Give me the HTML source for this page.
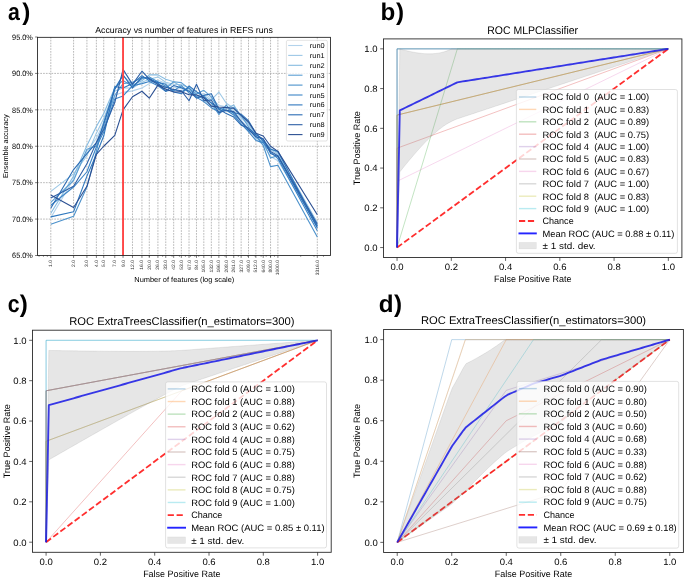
<!DOCTYPE html>
<html><head><meta charset="utf-8"><title>figure</title><style>
html,body{margin:0;padding:0;background:#fff;}
svg{display:block;will-change:transform;}
text{font-family:"Liberation Sans", sans-serif;text-rendering:geometricPrecision;}
</style></head><body>
<svg width="685" height="579" viewBox="0 0 685 579">
<rect width="685" height="579" fill="#fff"/>
<line x1="37.50" y1="73.42" x2="330.50" y2="73.42" stroke="#a8a8a8" stroke-width="0.8" stroke-dasharray="1.7,1.1"/>
<line x1="37.50" y1="109.83" x2="330.50" y2="109.83" stroke="#a8a8a8" stroke-width="0.8" stroke-dasharray="1.7,1.1"/>
<line x1="37.50" y1="146.25" x2="330.50" y2="146.25" stroke="#a8a8a8" stroke-width="0.8" stroke-dasharray="1.7,1.1"/>
<line x1="37.50" y1="182.67" x2="330.50" y2="182.67" stroke="#a8a8a8" stroke-width="0.8" stroke-dasharray="1.7,1.1"/>
<line x1="37.50" y1="219.08" x2="330.50" y2="219.08" stroke="#a8a8a8" stroke-width="0.8" stroke-dasharray="1.7,1.1"/>
<line x1="50.80" y1="37.00" x2="50.80" y2="255.50" stroke="#a8a8a8" stroke-width="0.8" stroke-dasharray="1.7,1.1"/>
<line x1="73.59" y1="37.00" x2="73.59" y2="255.50" stroke="#a8a8a8" stroke-width="0.8" stroke-dasharray="1.7,1.1"/>
<line x1="86.92" y1="37.00" x2="86.92" y2="255.50" stroke="#a8a8a8" stroke-width="0.8" stroke-dasharray="1.7,1.1"/>
<line x1="96.38" y1="37.00" x2="96.38" y2="255.50" stroke="#a8a8a8" stroke-width="0.8" stroke-dasharray="1.7,1.1"/>
<line x1="103.71" y1="37.00" x2="103.71" y2="255.50" stroke="#a8a8a8" stroke-width="0.8" stroke-dasharray="1.7,1.1"/>
<line x1="114.77" y1="37.00" x2="114.77" y2="255.50" stroke="#a8a8a8" stroke-width="0.8" stroke-dasharray="1.7,1.1"/>
<line x1="123.04" y1="37.00" x2="123.04" y2="255.50" stroke="#a8a8a8" stroke-width="0.8" stroke-dasharray="1.7,1.1"/>
<line x1="132.49" y1="37.00" x2="132.49" y2="255.50" stroke="#a8a8a8" stroke-width="0.8" stroke-dasharray="1.7,1.1"/>
<line x1="141.95" y1="37.00" x2="141.95" y2="255.50" stroke="#a8a8a8" stroke-width="0.8" stroke-dasharray="1.7,1.1"/>
<line x1="149.29" y1="37.00" x2="149.29" y2="255.50" stroke="#a8a8a8" stroke-width="0.8" stroke-dasharray="1.7,1.1"/>
<line x1="157.91" y1="37.00" x2="157.91" y2="255.50" stroke="#a8a8a8" stroke-width="0.8" stroke-dasharray="1.7,1.1"/>
<line x1="165.75" y1="37.00" x2="165.75" y2="255.50" stroke="#a8a8a8" stroke-width="0.8" stroke-dasharray="1.7,1.1"/>
<line x1="173.68" y1="37.00" x2="173.68" y2="255.50" stroke="#a8a8a8" stroke-width="0.8" stroke-dasharray="1.7,1.1"/>
<line x1="181.33" y1="37.00" x2="181.33" y2="255.50" stroke="#a8a8a8" stroke-width="0.8" stroke-dasharray="1.7,1.1"/>
<line x1="189.03" y1="37.00" x2="189.03" y2="255.50" stroke="#a8a8a8" stroke-width="0.8" stroke-dasharray="1.7,1.1"/>
<line x1="196.47" y1="37.00" x2="196.47" y2="255.50" stroke="#a8a8a8" stroke-width="0.8" stroke-dasharray="1.7,1.1"/>
<line x1="203.80" y1="37.00" x2="203.80" y2="255.50" stroke="#a8a8a8" stroke-width="0.8" stroke-dasharray="1.7,1.1"/>
<line x1="211.33" y1="37.00" x2="211.33" y2="255.50" stroke="#a8a8a8" stroke-width="0.8" stroke-dasharray="1.7,1.1"/>
<line x1="218.86" y1="37.00" x2="218.86" y2="255.50" stroke="#a8a8a8" stroke-width="0.8" stroke-dasharray="1.7,1.1"/>
<line x1="226.28" y1="37.00" x2="226.28" y2="255.50" stroke="#a8a8a8" stroke-width="0.8" stroke-dasharray="1.7,1.1"/>
<line x1="233.74" y1="37.00" x2="233.74" y2="255.50" stroke="#a8a8a8" stroke-width="0.8" stroke-dasharray="1.7,1.1"/>
<line x1="241.15" y1="37.00" x2="241.15" y2="255.50" stroke="#a8a8a8" stroke-width="0.8" stroke-dasharray="1.7,1.1"/>
<line x1="248.51" y1="37.00" x2="248.51" y2="255.50" stroke="#a8a8a8" stroke-width="0.8" stroke-dasharray="1.7,1.1"/>
<line x1="255.89" y1="37.00" x2="255.89" y2="255.50" stroke="#a8a8a8" stroke-width="0.8" stroke-dasharray="1.7,1.1"/>
<line x1="263.23" y1="37.00" x2="263.23" y2="255.50" stroke="#a8a8a8" stroke-width="0.8" stroke-dasharray="1.7,1.1"/>
<line x1="270.56" y1="37.00" x2="270.56" y2="255.50" stroke="#a8a8a8" stroke-width="0.8" stroke-dasharray="1.7,1.1"/>
<line x1="277.90" y1="37.00" x2="277.90" y2="255.50" stroke="#a8a8a8" stroke-width="0.8" stroke-dasharray="1.7,1.1"/>
<line x1="317.31" y1="37.00" x2="317.31" y2="255.50" stroke="#a8a8a8" stroke-width="0.8" stroke-dasharray="1.7,1.1"/>
<polyline points="50.80,217.63 73.59,179.03 86.92,151.35 96.38,138.24 103.71,122.22 114.77,95.27 123.04,92.35 132.49,90.90 141.95,87.98 149.29,83.61 157.91,80.34 165.75,83.25 173.68,86.89 181.33,88.71 189.03,91.19 196.47,96.58 203.80,93.37 211.33,98.40 218.86,105.17 226.28,106.70 233.74,110.49 241.15,120.25 248.51,128.04 255.89,138.97 263.23,144.79 270.56,156.45 277.90,160.82 317.31,225.64" fill="none" stroke="#b3d3ec" stroke-width="1.1" stroke-linejoin="round"/>
<polyline points="50.80,191.41 73.59,173.93 86.92,155.72 96.38,133.14 103.71,118.57 114.77,90.90 123.04,87.98 132.49,87.98 141.95,82.16 149.29,79.24 157.91,76.91 165.75,82.23 173.68,84.27 181.33,84.63 189.03,87.76 196.47,93.30 203.80,95.41 211.33,99.93 218.86,92.06 226.28,103.28 233.74,108.30 241.15,117.84 248.51,124.40 255.89,136.05 263.23,143.34 270.56,149.89 277.90,154.26 317.31,227.82" fill="none" stroke="#9dc8e6" stroke-width="1.1" stroke-linejoin="round"/>
<polyline points="50.80,213.26 73.59,176.11 86.92,145.52 96.38,126.58 103.71,113.47 114.77,87.98 123.04,75.60 132.49,85.07 141.95,80.70 149.29,74.87 157.91,74.87 165.75,79.24 173.68,81.72 181.33,86.67 189.03,90.31 196.47,94.90 203.80,99.56 211.33,106.12 218.86,108.96 226.28,108.45 233.74,105.03 241.15,116.61 248.51,123.16 255.89,134.60 263.23,139.69 270.56,148.43 277.90,152.81 317.31,222.72" fill="none" stroke="#86bbe0" stroke-width="1.1" stroke-linejoin="round"/>
<polyline points="50.80,202.33 73.59,180.48 86.92,149.16 96.38,146.25 103.71,127.31 114.77,95.27 123.04,83.61 132.49,82.16 141.95,77.79 149.29,78.52 157.91,83.76 165.75,88.27 173.68,81.72 181.33,82.59 189.03,88.64 196.47,94.10 203.80,90.31 211.33,96.87 218.86,109.91 226.28,111.00 233.74,107.21 241.15,115.44 248.51,126.80 255.89,137.51 263.23,141.88 270.56,157.90 277.90,155.72 317.31,225.64" fill="none" stroke="#5d9fd3" stroke-width="1.1" stroke-linejoin="round"/>
<polyline points="50.80,224.18 73.59,216.17 86.92,187.04 96.38,151.35 103.71,122.22 114.77,87.98 123.04,80.34 132.49,86.53 141.95,78.52 149.29,77.06 157.91,81.72 165.75,86.24 173.68,90.75 181.33,85.65 189.03,92.94 196.47,96.58 203.80,97.52 211.33,103.06 218.86,114.57 226.28,105.03 233.74,113.84 241.15,121.49 248.51,130.45 255.89,135.32 263.23,145.52 270.56,166.64 277.90,165.19 317.31,236.93" fill="none" stroke="#4b91cb" stroke-width="1.1" stroke-linejoin="round"/>
<polyline points="50.80,205.24 73.59,187.04 86.92,171.74 96.38,146.98 103.71,131.68 114.77,98.91 123.04,95.99 132.49,85.80 141.95,83.61 149.29,81.43 157.91,85.80 165.75,91.26 173.68,89.44 181.33,91.77 189.03,87.76 196.47,97.38 203.80,101.60 211.33,107.65 218.86,111.73 226.28,110.20 233.74,114.93 241.15,123.89 248.51,131.68 255.89,140.42 263.23,142.61 270.56,152.08 277.90,158.63 317.31,230.74" fill="none" stroke="#3d85c6" stroke-width="1.1" stroke-linejoin="round"/>
<polyline points="50.80,216.90 73.59,211.80 86.92,176.11 96.38,154.26 103.71,136.05 114.77,86.53 123.04,87.98 132.49,83.61 141.95,75.60 149.29,80.70 157.91,82.38 165.75,84.27 173.68,92.06 181.33,93.81 189.03,86.02 196.47,91.70 203.80,96.50 211.33,103.06 218.86,108.01 226.28,110.20 233.74,112.75 241.15,114.20 248.51,120.76 255.89,133.14 263.23,141.15 270.56,149.16 277.90,151.35 317.31,226.37" fill="none" stroke="#2f78be" stroke-width="1.1" stroke-linejoin="round"/>
<polyline points="50.80,208.16 73.59,169.56 86.92,153.53 96.38,142.61 103.71,124.40 114.77,89.44 123.04,74.87 132.49,87.98 141.95,77.06 149.29,78.52 157.91,83.03 165.75,91.26 173.68,85.58 181.33,87.69 189.03,91.19 196.47,98.18 203.80,95.41 211.33,93.81 218.86,108.96 226.28,113.62 233.74,117.12 241.15,125.13 248.51,128.04 255.89,134.60 263.23,138.97 270.56,153.53 277.90,156.45 317.31,227.82" fill="none" stroke="#2b6cb4" stroke-width="1.1" stroke-linejoin="round"/>
<polyline points="50.80,197.96 73.59,186.31 86.92,163.73 96.38,142.61 103.71,129.50 114.77,102.55 123.04,69.41 132.49,84.34 141.95,71.23 149.29,79.24 157.91,84.41 165.75,87.26 173.68,89.44 181.33,90.75 189.03,100.73 196.47,84.34 203.80,100.58 211.33,99.93 218.86,112.67 226.28,110.20 233.74,111.65 241.15,121.49 248.51,129.28 255.89,136.78 263.23,138.97 270.56,151.35 277.90,155.72 317.31,224.18" fill="none" stroke="#2c5fa6" stroke-width="1.1" stroke-linejoin="round"/>
<polyline points="50.80,195.05 73.59,207.43 86.92,186.31 96.38,154.26 103.71,146.25 114.77,135.32 123.04,109.83 132.49,96.72 141.95,91.26 149.29,98.18 157.91,85.14 165.75,89.29 173.68,92.06 181.33,91.77 189.03,94.68 196.47,94.90 203.80,97.52 211.33,106.12 218.86,107.07 226.28,107.58 233.74,108.30 241.15,115.44 248.51,122.00 255.89,133.14 263.23,136.05 270.56,146.25 277.90,151.35 317.31,214.71" fill="none" stroke="#2b4f92" stroke-width="1.1" stroke-linejoin="round"/>
<line x1="123.04" y1="37.00" x2="123.04" y2="255.50" stroke="#ff4545" stroke-width="1.9"/>
<rect x="37.5" y="37.35" width="293.00" height="218.15" fill="none" stroke="#2a2a2a" stroke-width="0.9"/>
<line x1="35.10" y1="37.00" x2="37.50" y2="37.00" stroke="#222" stroke-width="0.6"/>
<text x="32.90" y="39.77" font-size="7.74" text-anchor="end" textLength="20.81" lengthAdjust="spacingAndGlyphs" xml:space="preserve">95.0%</text>
<line x1="35.10" y1="73.42" x2="37.50" y2="73.42" stroke="#222" stroke-width="0.6"/>
<text x="32.90" y="76.19" font-size="7.74" text-anchor="end" textLength="20.81" lengthAdjust="spacingAndGlyphs" xml:space="preserve">90.0%</text>
<line x1="35.10" y1="109.83" x2="37.50" y2="109.83" stroke="#222" stroke-width="0.6"/>
<text x="32.90" y="112.60" font-size="7.74" text-anchor="end" textLength="20.81" lengthAdjust="spacingAndGlyphs" xml:space="preserve">85.0%</text>
<line x1="35.10" y1="146.25" x2="37.50" y2="146.25" stroke="#222" stroke-width="0.6"/>
<text x="32.90" y="149.02" font-size="7.74" text-anchor="end" textLength="20.81" lengthAdjust="spacingAndGlyphs" xml:space="preserve">80.0%</text>
<line x1="35.10" y1="182.67" x2="37.50" y2="182.67" stroke="#222" stroke-width="0.6"/>
<text x="32.90" y="185.44" font-size="7.74" text-anchor="end" textLength="20.81" lengthAdjust="spacingAndGlyphs" xml:space="preserve">75.0%</text>
<line x1="35.10" y1="219.08" x2="37.50" y2="219.08" stroke="#222" stroke-width="0.6"/>
<text x="32.90" y="221.85" font-size="7.74" text-anchor="end" textLength="20.81" lengthAdjust="spacingAndGlyphs" xml:space="preserve">70.0%</text>
<line x1="35.10" y1="255.50" x2="37.50" y2="255.50" stroke="#222" stroke-width="0.6"/>
<text x="32.90" y="258.27" font-size="7.74" text-anchor="end" textLength="20.81" lengthAdjust="spacingAndGlyphs" xml:space="preserve">65.0%</text>
<line x1="50.80" y1="255.50" x2="50.80" y2="257.90" stroke="#222" stroke-width="0.6"/>
<line x1="73.59" y1="255.50" x2="73.59" y2="257.90" stroke="#222" stroke-width="0.6"/>
<line x1="86.92" y1="255.50" x2="86.92" y2="257.90" stroke="#222" stroke-width="0.6"/>
<line x1="96.38" y1="255.50" x2="96.38" y2="257.90" stroke="#222" stroke-width="0.6"/>
<line x1="103.71" y1="255.50" x2="103.71" y2="257.90" stroke="#222" stroke-width="0.6"/>
<line x1="114.77" y1="255.50" x2="114.77" y2="257.90" stroke="#222" stroke-width="0.6"/>
<line x1="123.04" y1="255.50" x2="123.04" y2="257.90" stroke="#222" stroke-width="0.6"/>
<line x1="132.49" y1="255.50" x2="132.49" y2="257.90" stroke="#222" stroke-width="0.6"/>
<line x1="141.95" y1="255.50" x2="141.95" y2="257.90" stroke="#222" stroke-width="0.6"/>
<line x1="149.29" y1="255.50" x2="149.29" y2="257.90" stroke="#222" stroke-width="0.6"/>
<line x1="157.91" y1="255.50" x2="157.91" y2="257.90" stroke="#222" stroke-width="0.6"/>
<line x1="165.75" y1="255.50" x2="165.75" y2="257.90" stroke="#222" stroke-width="0.6"/>
<line x1="173.68" y1="255.50" x2="173.68" y2="257.90" stroke="#222" stroke-width="0.6"/>
<line x1="181.33" y1="255.50" x2="181.33" y2="257.90" stroke="#222" stroke-width="0.6"/>
<line x1="189.03" y1="255.50" x2="189.03" y2="257.90" stroke="#222" stroke-width="0.6"/>
<line x1="196.47" y1="255.50" x2="196.47" y2="257.90" stroke="#222" stroke-width="0.6"/>
<line x1="203.80" y1="255.50" x2="203.80" y2="257.90" stroke="#222" stroke-width="0.6"/>
<line x1="211.33" y1="255.50" x2="211.33" y2="257.90" stroke="#222" stroke-width="0.6"/>
<line x1="218.86" y1="255.50" x2="218.86" y2="257.90" stroke="#222" stroke-width="0.6"/>
<line x1="226.28" y1="255.50" x2="226.28" y2="257.90" stroke="#222" stroke-width="0.6"/>
<line x1="233.74" y1="255.50" x2="233.74" y2="257.90" stroke="#222" stroke-width="0.6"/>
<line x1="241.15" y1="255.50" x2="241.15" y2="257.90" stroke="#222" stroke-width="0.6"/>
<line x1="248.51" y1="255.50" x2="248.51" y2="257.90" stroke="#222" stroke-width="0.6"/>
<line x1="255.89" y1="255.50" x2="255.89" y2="257.90" stroke="#222" stroke-width="0.6"/>
<line x1="263.23" y1="255.50" x2="263.23" y2="257.90" stroke="#222" stroke-width="0.6"/>
<line x1="270.56" y1="255.50" x2="270.56" y2="257.90" stroke="#222" stroke-width="0.6"/>
<line x1="277.90" y1="255.50" x2="277.90" y2="257.90" stroke="#222" stroke-width="0.6"/>
<line x1="317.31" y1="255.50" x2="317.31" y2="257.90" stroke="#222" stroke-width="0.6"/>
<line x1="39.07" y1="255.50" x2="39.07" y2="256.80" stroke="#222" stroke-width="0.5"/>
<line x1="43.46" y1="255.50" x2="43.46" y2="256.80" stroke="#222" stroke-width="0.5"/>
<line x1="47.34" y1="255.50" x2="47.34" y2="256.80" stroke="#222" stroke-width="0.5"/>
<line x1="149.29" y1="255.50" x2="149.29" y2="256.80" stroke="#222" stroke-width="0.5"/>
<line x1="162.62" y1="255.50" x2="162.62" y2="256.80" stroke="#222" stroke-width="0.5"/>
<line x1="172.08" y1="255.50" x2="172.08" y2="256.80" stroke="#222" stroke-width="0.5"/>
<line x1="179.41" y1="255.50" x2="179.41" y2="256.80" stroke="#222" stroke-width="0.5"/>
<line x1="185.41" y1="255.50" x2="185.41" y2="256.80" stroke="#222" stroke-width="0.5"/>
<line x1="190.47" y1="255.50" x2="190.47" y2="256.80" stroke="#222" stroke-width="0.5"/>
<line x1="194.86" y1="255.50" x2="194.86" y2="256.80" stroke="#222" stroke-width="0.5"/>
<line x1="198.74" y1="255.50" x2="198.74" y2="256.80" stroke="#222" stroke-width="0.5"/>
<line x1="224.99" y1="255.50" x2="224.99" y2="256.80" stroke="#222" stroke-width="0.5"/>
<line x1="238.32" y1="255.50" x2="238.32" y2="256.80" stroke="#222" stroke-width="0.5"/>
<line x1="247.78" y1="255.50" x2="247.78" y2="256.80" stroke="#222" stroke-width="0.5"/>
<line x1="255.11" y1="255.50" x2="255.11" y2="256.80" stroke="#222" stroke-width="0.5"/>
<line x1="261.11" y1="255.50" x2="261.11" y2="256.80" stroke="#222" stroke-width="0.5"/>
<line x1="266.17" y1="255.50" x2="266.17" y2="256.80" stroke="#222" stroke-width="0.5"/>
<line x1="270.56" y1="255.50" x2="270.56" y2="256.80" stroke="#222" stroke-width="0.5"/>
<line x1="274.44" y1="255.50" x2="274.44" y2="256.80" stroke="#222" stroke-width="0.5"/>
<line x1="300.69" y1="255.50" x2="300.69" y2="256.80" stroke="#222" stroke-width="0.5"/>
<line x1="314.02" y1="255.50" x2="314.02" y2="256.80" stroke="#222" stroke-width="0.5"/>
<line x1="323.48" y1="255.50" x2="323.48" y2="256.80" stroke="#222" stroke-width="0.5"/>
<text x="52.35" y="260.10" font-size="4.77" text-anchor="end" textLength="6.84" lengthAdjust="spacingAndGlyphs" fill="#333" transform="rotate(-90 52.35 260.10)" xml:space="preserve">1.0</text>
<text x="75.14" y="260.10" font-size="4.77" text-anchor="end" textLength="6.84" lengthAdjust="spacingAndGlyphs" fill="#333" transform="rotate(-90 75.14 260.10)" xml:space="preserve">2.0</text>
<text x="88.47" y="260.10" font-size="4.77" text-anchor="end" textLength="6.84" lengthAdjust="spacingAndGlyphs" fill="#333" transform="rotate(-90 88.47 260.10)" xml:space="preserve">3.0</text>
<text x="97.93" y="260.10" font-size="4.77" text-anchor="end" textLength="6.84" lengthAdjust="spacingAndGlyphs" fill="#333" transform="rotate(-90 97.93 260.10)" xml:space="preserve">4.0</text>
<text x="105.26" y="260.10" font-size="4.77" text-anchor="end" textLength="6.84" lengthAdjust="spacingAndGlyphs" fill="#333" transform="rotate(-90 105.26 260.10)" xml:space="preserve">5.0</text>
<text x="116.32" y="260.10" font-size="4.77" text-anchor="end" textLength="6.84" lengthAdjust="spacingAndGlyphs" fill="#333" transform="rotate(-90 116.32 260.10)" xml:space="preserve">7.0</text>
<text x="124.59" y="260.10" font-size="4.77" text-anchor="end" textLength="6.84" lengthAdjust="spacingAndGlyphs" fill="#333" transform="rotate(-90 124.59 260.10)" xml:space="preserve">9.0</text>
<text x="134.04" y="260.10" font-size="4.77" text-anchor="end" textLength="9.57" lengthAdjust="spacingAndGlyphs" fill="#333" transform="rotate(-90 134.04 260.10)" xml:space="preserve">12.0</text>
<text x="143.50" y="260.10" font-size="4.77" text-anchor="end" textLength="9.57" lengthAdjust="spacingAndGlyphs" fill="#333" transform="rotate(-90 143.50 260.10)" xml:space="preserve">16.0</text>
<text x="150.84" y="260.10" font-size="4.77" text-anchor="end" textLength="9.57" lengthAdjust="spacingAndGlyphs" fill="#333" transform="rotate(-90 150.84 260.10)" xml:space="preserve">20.0</text>
<text x="159.46" y="260.10" font-size="4.77" text-anchor="end" textLength="9.57" lengthAdjust="spacingAndGlyphs" fill="#333" transform="rotate(-90 159.46 260.10)" xml:space="preserve">26.0</text>
<text x="167.30" y="260.10" font-size="4.77" text-anchor="end" textLength="9.57" lengthAdjust="spacingAndGlyphs" fill="#333" transform="rotate(-90 167.30 260.10)" xml:space="preserve">33.0</text>
<text x="175.23" y="260.10" font-size="4.77" text-anchor="end" textLength="9.57" lengthAdjust="spacingAndGlyphs" fill="#333" transform="rotate(-90 175.23 260.10)" xml:space="preserve">42.0</text>
<text x="182.88" y="260.10" font-size="4.77" text-anchor="end" textLength="9.57" lengthAdjust="spacingAndGlyphs" fill="#333" transform="rotate(-90 182.88 260.10)" xml:space="preserve">53.0</text>
<text x="190.58" y="260.10" font-size="4.77" text-anchor="end" textLength="9.57" lengthAdjust="spacingAndGlyphs" fill="#333" transform="rotate(-90 190.58 260.10)" xml:space="preserve">67.0</text>
<text x="198.02" y="260.10" font-size="4.77" text-anchor="end" textLength="9.57" lengthAdjust="spacingAndGlyphs" fill="#333" transform="rotate(-90 198.02 260.10)" xml:space="preserve">84.0</text>
<text x="205.35" y="260.10" font-size="4.77" text-anchor="end" textLength="12.31" lengthAdjust="spacingAndGlyphs" fill="#333" transform="rotate(-90 205.35 260.10)" xml:space="preserve">105.0</text>
<text x="212.88" y="260.10" font-size="4.77" text-anchor="end" textLength="12.31" lengthAdjust="spacingAndGlyphs" fill="#333" transform="rotate(-90 212.88 260.10)" xml:space="preserve">132.0</text>
<text x="220.41" y="260.10" font-size="4.77" text-anchor="end" textLength="12.31" lengthAdjust="spacingAndGlyphs" fill="#333" transform="rotate(-90 220.41 260.10)" xml:space="preserve">166.0</text>
<text x="227.83" y="260.10" font-size="4.77" text-anchor="end" textLength="12.31" lengthAdjust="spacingAndGlyphs" fill="#333" transform="rotate(-90 227.83 260.10)" xml:space="preserve">208.0</text>
<text x="235.29" y="260.10" font-size="4.77" text-anchor="end" textLength="12.31" lengthAdjust="spacingAndGlyphs" fill="#333" transform="rotate(-90 235.29 260.10)" xml:space="preserve">261.0</text>
<text x="242.70" y="260.10" font-size="4.77" text-anchor="end" textLength="12.31" lengthAdjust="spacingAndGlyphs" fill="#333" transform="rotate(-90 242.70 260.10)" xml:space="preserve">327.0</text>
<text x="250.06" y="260.10" font-size="4.77" text-anchor="end" textLength="12.31" lengthAdjust="spacingAndGlyphs" fill="#333" transform="rotate(-90 250.06 260.10)" xml:space="preserve">409.0</text>
<text x="257.44" y="260.10" font-size="4.77" text-anchor="end" textLength="12.31" lengthAdjust="spacingAndGlyphs" fill="#333" transform="rotate(-90 257.44 260.10)" xml:space="preserve">512.0</text>
<text x="264.78" y="260.10" font-size="4.77" text-anchor="end" textLength="12.31" lengthAdjust="spacingAndGlyphs" fill="#333" transform="rotate(-90 264.78 260.10)" xml:space="preserve">640.0</text>
<text x="272.11" y="260.10" font-size="4.77" text-anchor="end" textLength="12.31" lengthAdjust="spacingAndGlyphs" fill="#333" transform="rotate(-90 272.11 260.10)" xml:space="preserve">800.0</text>
<text x="279.45" y="260.10" font-size="4.77" text-anchor="end" textLength="15.05" lengthAdjust="spacingAndGlyphs" fill="#333" transform="rotate(-90 279.45 260.10)" xml:space="preserve">1000.0</text>
<text x="318.86" y="260.10" font-size="4.77" text-anchor="end" textLength="15.05" lengthAdjust="spacingAndGlyphs" fill="#333" transform="rotate(-90 318.86 260.10)" xml:space="preserve">3316.0</text>
<text x="184.00" y="33.10" font-size="8.75" text-anchor="middle" textLength="177.56" lengthAdjust="spacingAndGlyphs" xml:space="preserve">Accuracy vs number of features in REFS runs</text>
<text x="184.30" y="282.00" font-size="7.27" text-anchor="middle" textLength="99.99" lengthAdjust="spacingAndGlyphs" xml:space="preserve">Number of features (log scale)</text>
<text x="7.90" y="146.25" font-size="7.27" text-anchor="middle" textLength="63.76" lengthAdjust="spacingAndGlyphs" transform="rotate(-90 7.90 146.25)" xml:space="preserve">Ensemble accuracy</text>
<rect x="286.4" y="40.3" width="41.00" height="100.70" rx="1.5" fill="#fff" fill-opacity="0.8" stroke="#d0d0d0" stroke-width="0.6"/>
<line x1="288.20" y1="45.50" x2="302.50" y2="45.50" stroke="#b3d3ec" stroke-width="1.1"/>
<text x="309.80" y="48.04" font-size="7.10" textLength="14.82" lengthAdjust="spacingAndGlyphs" xml:space="preserve">run0</text>
<line x1="288.20" y1="55.40" x2="302.50" y2="55.40" stroke="#9dc8e6" stroke-width="1.1"/>
<text x="309.80" y="57.94" font-size="7.10" textLength="14.82" lengthAdjust="spacingAndGlyphs" xml:space="preserve">run1</text>
<line x1="288.20" y1="65.30" x2="302.50" y2="65.30" stroke="#86bbe0" stroke-width="1.1"/>
<text x="309.80" y="67.84" font-size="7.10" textLength="14.82" lengthAdjust="spacingAndGlyphs" xml:space="preserve">run2</text>
<line x1="288.20" y1="75.20" x2="302.50" y2="75.20" stroke="#5d9fd3" stroke-width="1.1"/>
<text x="309.80" y="77.74" font-size="7.10" textLength="14.82" lengthAdjust="spacingAndGlyphs" xml:space="preserve">run3</text>
<line x1="288.20" y1="85.10" x2="302.50" y2="85.10" stroke="#4b91cb" stroke-width="1.1"/>
<text x="309.80" y="87.64" font-size="7.10" textLength="14.82" lengthAdjust="spacingAndGlyphs" xml:space="preserve">run4</text>
<line x1="288.20" y1="95.00" x2="302.50" y2="95.00" stroke="#3d85c6" stroke-width="1.1"/>
<text x="309.80" y="97.54" font-size="7.10" textLength="14.82" lengthAdjust="spacingAndGlyphs" xml:space="preserve">run5</text>
<line x1="288.20" y1="104.90" x2="302.50" y2="104.90" stroke="#2f78be" stroke-width="1.1"/>
<text x="309.80" y="107.44" font-size="7.10" textLength="14.82" lengthAdjust="spacingAndGlyphs" xml:space="preserve">run6</text>
<line x1="288.20" y1="114.80" x2="302.50" y2="114.80" stroke="#2b6cb4" stroke-width="1.1"/>
<text x="309.80" y="117.34" font-size="7.10" textLength="14.82" lengthAdjust="spacingAndGlyphs" xml:space="preserve">run7</text>
<line x1="288.20" y1="124.70" x2="302.50" y2="124.70" stroke="#2c5fa6" stroke-width="1.1"/>
<text x="309.80" y="127.24" font-size="7.10" textLength="14.82" lengthAdjust="spacingAndGlyphs" xml:space="preserve">run8</text>
<line x1="288.20" y1="134.60" x2="302.50" y2="134.60" stroke="#2b4f92" stroke-width="1.1"/>
<text x="309.80" y="137.14" font-size="7.10" textLength="14.82" lengthAdjust="spacingAndGlyphs" xml:space="preserve">run9</text>
<g>
<polyline points="397.06,247.56 397.06,48.84 668.34,48.84" fill="none" stroke="#1f77b4" stroke-width="0.95" stroke-linejoin="round" stroke-opacity="0.3"/>
<polyline points="397.06,247.56 397.06,115.08 668.34,48.84" fill="none" stroke="#ff7f0e" stroke-width="0.95" stroke-linejoin="round" stroke-opacity="0.3"/>
<polyline points="397.06,247.56 457.35,48.84 668.34,48.84" fill="none" stroke="#2ca02c" stroke-width="0.95" stroke-linejoin="round" stroke-opacity="0.3"/>
<polyline points="397.06,247.56 397.06,148.20 668.34,48.84" fill="none" stroke="#d62728" stroke-width="0.95" stroke-linejoin="round" stroke-opacity="0.3"/>
<polyline points="397.06,247.56 397.06,48.84 668.34,48.84" fill="none" stroke="#9467bd" stroke-width="0.95" stroke-linejoin="round" stroke-opacity="0.3"/>
<polyline points="397.06,247.56 397.06,115.08 668.34,48.84" fill="none" stroke="#8c564b" stroke-width="0.95" stroke-linejoin="round" stroke-opacity="0.3"/>
<polyline points="397.06,247.56 397.06,181.32 668.34,48.84" fill="none" stroke="#e377c2" stroke-width="0.95" stroke-linejoin="round" stroke-opacity="0.3"/>
<polyline points="397.06,247.56 397.06,48.84 668.34,48.84" fill="none" stroke="#7f7f7f" stroke-width="0.95" stroke-linejoin="round" stroke-opacity="0.3"/>
<polyline points="397.06,247.56 397.06,115.08 668.34,48.84" fill="none" stroke="#bcbd22" stroke-width="0.95" stroke-linejoin="round" stroke-opacity="0.3"/>
<polyline points="397.06,247.56 397.06,48.84 668.34,48.84" fill="none" stroke="#17becf" stroke-width="0.95" stroke-linejoin="round" stroke-opacity="0.3"/>
<line x1="397.06" y1="247.56" x2="668.34" y2="48.84" stroke="#ff0000" stroke-width="1.8" stroke-opacity="0.82" stroke-dasharray="6.2,2.7"/>
<polyline points="397.06,247.56 399.80,110.43 402.54,109.09 405.28,107.75 408.02,106.41 410.76,105.08 413.50,103.74 416.24,102.40 418.98,101.06 421.72,99.72 424.46,98.38 427.21,97.05 429.95,95.71 432.69,94.37 435.43,93.03 438.17,91.69 440.91,90.35 443.65,89.02 446.39,87.68 449.13,86.34 451.87,85.00 454.61,83.66 457.35,82.33 460.09,81.89 462.83,81.46 465.57,81.02 468.31,80.59 471.05,80.15 473.79,79.72 476.53,79.28 479.27,78.85 482.01,78.41 484.75,77.98 487.49,77.54 490.23,77.11 492.97,76.67 495.71,76.24 498.45,75.80 501.19,75.37 503.93,74.93 506.67,74.50 509.41,74.06 512.15,73.63 514.89,73.19 517.63,72.76 520.37,72.32 523.11,71.89 525.85,71.45 528.59,71.02 531.33,70.58 534.07,70.15 536.81,69.71 539.55,69.28 542.29,68.84 545.03,68.41 547.77,67.97 550.51,67.54 553.25,67.10 555.99,66.67 558.73,66.23 561.47,65.80 564.21,65.36 566.95,64.93 569.69,64.49 572.43,64.06 575.17,63.62 577.91,63.19 580.65,62.75 583.39,62.32 586.13,61.88 588.87,61.45 591.61,61.01 594.35,60.58 597.09,60.14 599.83,59.71 602.57,59.27 605.31,58.84 608.05,58.40 610.79,57.97 613.53,57.53 616.27,57.10 619.01,56.67 621.75,56.23 624.49,55.80 627.23,55.36 629.97,54.93 632.71,54.49 635.45,54.06 638.19,53.62 640.94,53.19 643.68,52.75 646.42,52.32 649.16,51.88 651.90,51.45 654.64,51.01 657.38,50.58 660.12,50.14 662.86,49.71 665.60,49.27 668.34,48.84" fill="none" stroke="#0000ff" stroke-width="1.85" stroke-linejoin="round" stroke-opacity="0.86"/>
<path d="M397.06,247.56 L399.80,48.93 L402.54,49.68 L405.28,50.38 L408.02,51.04 L410.76,51.65 L413.50,52.19 L416.24,52.68 L418.98,53.09 L421.72,53.42 L424.46,53.66 L427.21,53.80 L429.95,53.83 L432.69,53.74 L435.43,53.52 L438.17,53.15 L440.91,52.63 L443.65,51.95 L446.39,51.09 L449.13,50.04 L451.87,48.84 L454.61,48.84 L457.35,48.84 L460.09,48.84 L462.83,48.84 L465.57,48.84 L468.31,48.84 L471.05,48.84 L473.79,48.84 L476.53,48.84 L479.27,48.84 L482.01,48.84 L484.75,48.84 L487.49,48.84 L490.23,48.84 L492.97,48.84 L495.71,48.84 L498.45,48.84 L501.19,48.84 L503.93,48.84 L506.67,48.84 L509.41,48.84 L512.15,48.84 L514.89,48.84 L517.63,48.84 L520.37,48.84 L523.11,48.84 L525.85,48.84 L528.59,48.84 L531.33,48.84 L534.07,48.84 L536.81,48.84 L539.55,48.84 L542.29,48.84 L545.03,48.84 L547.77,48.84 L550.51,48.84 L553.25,48.84 L555.99,48.84 L558.73,48.84 L561.47,48.84 L564.21,48.84 L566.95,48.84 L569.69,48.84 L572.43,48.84 L575.17,48.84 L577.91,48.84 L580.65,48.84 L583.39,48.84 L586.13,48.84 L588.87,48.84 L591.61,48.84 L594.35,48.84 L597.09,48.84 L599.83,48.84 L602.57,48.84 L605.31,48.84 L608.05,48.84 L610.79,48.84 L613.53,48.84 L616.27,48.84 L619.01,48.84 L621.75,48.84 L624.49,48.84 L627.23,48.84 L629.97,48.84 L632.71,48.84 L635.45,48.84 L638.19,48.84 L640.94,48.84 L643.68,48.84 L646.42,48.84 L649.16,48.84 L651.90,48.84 L654.64,48.84 L657.38,48.84 L660.12,48.84 L662.86,48.84 L665.60,48.84 L668.34,48.84 L668.34,48.84 L665.60,49.75 L662.86,50.65 L660.12,51.56 L657.38,52.47 L654.64,53.38 L651.90,54.29 L649.16,55.20 L646.42,56.11 L643.68,57.02 L640.94,57.93 L638.19,58.84 L635.45,59.75 L632.71,60.66 L629.97,61.57 L627.23,62.47 L624.49,63.38 L621.75,64.29 L619.01,65.20 L616.27,66.11 L613.53,67.02 L610.79,67.93 L608.05,68.84 L605.31,69.75 L602.57,70.66 L599.83,71.57 L597.09,72.48 L594.35,73.39 L591.61,74.30 L588.87,75.20 L586.13,76.11 L583.39,77.02 L580.65,77.93 L577.91,78.84 L575.17,79.75 L572.43,80.66 L569.69,81.57 L566.95,82.48 L564.21,83.39 L561.47,84.30 L558.73,85.21 L555.99,86.12 L553.25,87.02 L550.51,87.93 L547.77,88.84 L545.03,89.75 L542.29,90.66 L539.55,91.57 L536.81,92.48 L534.07,93.39 L531.33,94.30 L528.59,95.21 L525.85,96.12 L523.11,97.03 L520.37,97.94 L517.63,98.84 L514.89,99.75 L512.15,100.66 L509.41,101.57 L506.67,102.48 L503.93,103.39 L501.19,104.30 L498.45,105.21 L495.71,106.12 L492.97,107.03 L490.23,107.94 L487.49,108.85 L484.75,109.76 L482.01,110.66 L479.27,111.57 L476.53,112.48 L473.79,113.39 L471.05,114.30 L468.31,115.21 L465.57,116.12 L462.83,117.03 L460.09,117.94 L457.35,118.85 L454.61,119.92 L451.87,121.19 L449.13,122.64 L446.39,124.27 L443.65,126.09 L440.91,128.08 L438.17,130.23 L435.43,132.54 L432.69,135.00 L429.95,137.58 L427.21,140.29 L424.46,143.11 L421.72,146.03 L418.98,149.03 L416.24,152.12 L413.50,155.28 L410.76,158.50 L408.02,161.79 L405.28,165.12 L402.54,168.50 L399.80,171.93 L397.06,247.56 Z" fill="#808080" fill-opacity="0.2" stroke="#808080" stroke-opacity="0.2" stroke-width="0.8"/>
</g>
<rect x="383.50" y="38.90" width="298.40" height="218.60" fill="none" stroke="#2a2a2a" stroke-width="0.9"/>
<line x1="397.06" y1="257.50" x2="397.06" y2="260.90" stroke="#222" stroke-width="0.7"/>
<text x="397.06" y="269.70" font-size="9.24" text-anchor="middle" textLength="13.25" lengthAdjust="spacingAndGlyphs" xml:space="preserve">0.0</text>
<line x1="380.20" y1="247.56" x2="383.50" y2="247.56" stroke="#222" stroke-width="0.7"/>
<text x="377.60" y="250.87" font-size="9.24" text-anchor="end" textLength="13.25" lengthAdjust="spacingAndGlyphs" xml:space="preserve">0.0</text>
<line x1="451.32" y1="257.50" x2="451.32" y2="260.90" stroke="#222" stroke-width="0.7"/>
<text x="451.32" y="269.70" font-size="9.24" text-anchor="middle" textLength="13.25" lengthAdjust="spacingAndGlyphs" xml:space="preserve">0.2</text>
<line x1="380.20" y1="207.82" x2="383.50" y2="207.82" stroke="#222" stroke-width="0.7"/>
<text x="377.60" y="211.13" font-size="9.24" text-anchor="end" textLength="13.25" lengthAdjust="spacingAndGlyphs" xml:space="preserve">0.2</text>
<line x1="505.57" y1="257.50" x2="505.57" y2="260.90" stroke="#222" stroke-width="0.7"/>
<text x="505.57" y="269.70" font-size="9.24" text-anchor="middle" textLength="13.25" lengthAdjust="spacingAndGlyphs" xml:space="preserve">0.4</text>
<line x1="380.20" y1="168.07" x2="383.50" y2="168.07" stroke="#222" stroke-width="0.7"/>
<text x="377.60" y="171.38" font-size="9.24" text-anchor="end" textLength="13.25" lengthAdjust="spacingAndGlyphs" xml:space="preserve">0.4</text>
<line x1="559.83" y1="257.50" x2="559.83" y2="260.90" stroke="#222" stroke-width="0.7"/>
<text x="559.83" y="269.70" font-size="9.24" text-anchor="middle" textLength="13.25" lengthAdjust="spacingAndGlyphs" xml:space="preserve">0.6</text>
<line x1="380.20" y1="128.33" x2="383.50" y2="128.33" stroke="#222" stroke-width="0.7"/>
<text x="377.60" y="131.64" font-size="9.24" text-anchor="end" textLength="13.25" lengthAdjust="spacingAndGlyphs" xml:space="preserve">0.6</text>
<line x1="614.08" y1="257.50" x2="614.08" y2="260.90" stroke="#222" stroke-width="0.7"/>
<text x="614.08" y="269.70" font-size="9.24" text-anchor="middle" textLength="13.25" lengthAdjust="spacingAndGlyphs" xml:space="preserve">0.8</text>
<line x1="380.20" y1="88.58" x2="383.50" y2="88.58" stroke="#222" stroke-width="0.7"/>
<text x="377.60" y="91.89" font-size="9.24" text-anchor="end" textLength="13.25" lengthAdjust="spacingAndGlyphs" xml:space="preserve">0.8</text>
<line x1="668.34" y1="257.50" x2="668.34" y2="260.90" stroke="#222" stroke-width="0.7"/>
<text x="668.34" y="269.70" font-size="9.24" text-anchor="middle" textLength="13.25" lengthAdjust="spacingAndGlyphs" xml:space="preserve">1.0</text>
<line x1="380.20" y1="48.84" x2="383.50" y2="48.84" stroke="#222" stroke-width="0.7"/>
<text x="377.60" y="52.15" font-size="9.24" text-anchor="end" textLength="13.25" lengthAdjust="spacingAndGlyphs" xml:space="preserve">1.0</text>
<text x="532.70" y="33.70" font-size="11.09" text-anchor="middle" textLength="90.77" lengthAdjust="spacingAndGlyphs" xml:space="preserve">ROC MLPClassifier</text>
<text x="532.70" y="281.80" font-size="9.24" text-anchor="middle" textLength="77.42" lengthAdjust="spacingAndGlyphs" xml:space="preserve">False Positive Rate</text>
<text x="360.30" y="148.20" font-size="9.24" text-anchor="middle" textLength="74.20" lengthAdjust="spacingAndGlyphs" transform="rotate(-90 360.30 148.20)" xml:space="preserve">True Positive Rate</text>
<rect x="516.4" y="89.5" width="161.00" height="163.80" rx="2" fill="#fff" fill-opacity="0.8" stroke="#cccccc" stroke-width="0.6"/>
<line x1="519.00" y1="97.00" x2="536.30" y2="97.00" stroke="#1f77b4" stroke-width="1.4" stroke-opacity="0.3"/>
<text x="542.50" y="100.31" font-size="9.24" textLength="106.71" lengthAdjust="spacingAndGlyphs" xml:space="preserve">ROC fold 0  (AUC = 1.00)</text>
<line x1="519.00" y1="109.40" x2="536.30" y2="109.40" stroke="#ff7f0e" stroke-width="1.4" stroke-opacity="0.3"/>
<text x="542.50" y="112.71" font-size="9.24" textLength="106.71" lengthAdjust="spacingAndGlyphs" xml:space="preserve">ROC fold 1  (AUC = 0.83)</text>
<line x1="519.00" y1="121.80" x2="536.30" y2="121.80" stroke="#2ca02c" stroke-width="1.4" stroke-opacity="0.3"/>
<text x="542.50" y="125.11" font-size="9.24" textLength="106.71" lengthAdjust="spacingAndGlyphs" xml:space="preserve">ROC fold 2  (AUC = 0.89)</text>
<line x1="519.00" y1="134.20" x2="536.30" y2="134.20" stroke="#d62728" stroke-width="1.4" stroke-opacity="0.3"/>
<text x="542.50" y="137.51" font-size="9.24" textLength="106.71" lengthAdjust="spacingAndGlyphs" xml:space="preserve">ROC fold 3  (AUC = 0.75)</text>
<line x1="519.00" y1="146.60" x2="536.30" y2="146.60" stroke="#9467bd" stroke-width="1.4" stroke-opacity="0.3"/>
<text x="542.50" y="149.91" font-size="9.24" textLength="106.71" lengthAdjust="spacingAndGlyphs" xml:space="preserve">ROC fold 4  (AUC = 1.00)</text>
<line x1="519.00" y1="159.00" x2="536.30" y2="159.00" stroke="#8c564b" stroke-width="1.4" stroke-opacity="0.3"/>
<text x="542.50" y="162.31" font-size="9.24" textLength="106.71" lengthAdjust="spacingAndGlyphs" xml:space="preserve">ROC fold 5  (AUC = 0.83)</text>
<line x1="519.00" y1="171.40" x2="536.30" y2="171.40" stroke="#e377c2" stroke-width="1.4" stroke-opacity="0.3"/>
<text x="542.50" y="174.71" font-size="9.24" textLength="106.71" lengthAdjust="spacingAndGlyphs" xml:space="preserve">ROC fold 6  (AUC = 0.67)</text>
<line x1="519.00" y1="183.80" x2="536.30" y2="183.80" stroke="#7f7f7f" stroke-width="1.4" stroke-opacity="0.3"/>
<text x="542.50" y="187.11" font-size="9.24" textLength="106.71" lengthAdjust="spacingAndGlyphs" xml:space="preserve">ROC fold 7  (AUC = 1.00)</text>
<line x1="519.00" y1="196.20" x2="536.30" y2="196.20" stroke="#bcbd22" stroke-width="1.4" stroke-opacity="0.3"/>
<text x="542.50" y="199.51" font-size="9.24" textLength="106.71" lengthAdjust="spacingAndGlyphs" xml:space="preserve">ROC fold 8  (AUC = 0.83)</text>
<line x1="519.00" y1="208.60" x2="536.30" y2="208.60" stroke="#17becf" stroke-width="1.4" stroke-opacity="0.3"/>
<text x="542.50" y="211.91" font-size="9.24" textLength="106.71" lengthAdjust="spacingAndGlyphs" xml:space="preserve">ROC fold 9  (AUC = 1.00)</text>
<line x1="519.00" y1="221.00" x2="536.30" y2="221.00" stroke="#ff0000" stroke-width="1.8" stroke-opacity="0.82" stroke-dasharray="6.2,2.7"/>
<text x="542.50" y="224.31" font-size="9.24" textLength="31.19" lengthAdjust="spacingAndGlyphs" xml:space="preserve">Chance</text>
<line x1="518.50" y1="233.40" x2="536.80" y2="233.40" stroke="#0000ff" stroke-width="1.9" stroke-opacity="0.86"/>
<text x="542.50" y="236.71" font-size="9.24" textLength="131.91" lengthAdjust="spacingAndGlyphs" xml:space="preserve">Mean ROC (AUC = 0.88 ± 0.11)</text>
<rect x="519.00" y="242.40" width="17.30" height="6.5" fill="#808080" fill-opacity="0.2" stroke="#808080" stroke-opacity="0.15" stroke-width="0.5"/>
<text x="542.50" y="249.11" font-size="9.24" textLength="53.11" lengthAdjust="spacingAndGlyphs" xml:space="preserve">± 1 std. dev.</text>
<g>
<polyline points="46.08,542.20 46.08,340.30 317.62,340.30" fill="none" stroke="#1f77b4" stroke-width="0.95" stroke-linejoin="round" stroke-opacity="0.3"/>
<polyline points="46.08,542.20 46.08,390.77 317.62,340.30" fill="none" stroke="#ff7f0e" stroke-width="0.95" stroke-linejoin="round" stroke-opacity="0.3"/>
<polyline points="46.08,542.20 46.08,390.77 317.62,340.30" fill="none" stroke="#2ca02c" stroke-width="0.95" stroke-linejoin="round" stroke-opacity="0.3"/>
<polyline points="46.08,542.20 181.85,390.77 317.62,340.30" fill="none" stroke="#d62728" stroke-width="0.95" stroke-linejoin="round" stroke-opacity="0.3"/>
<polyline points="46.08,542.20 46.08,390.77 317.62,340.30" fill="none" stroke="#9467bd" stroke-width="0.95" stroke-linejoin="round" stroke-opacity="0.3"/>
<polyline points="46.08,542.20 46.08,441.25 317.62,340.30" fill="none" stroke="#8c564b" stroke-width="0.95" stroke-linejoin="round" stroke-opacity="0.3"/>
<polyline points="46.08,542.20 46.08,390.77 317.62,340.30" fill="none" stroke="#e377c2" stroke-width="0.95" stroke-linejoin="round" stroke-opacity="0.3"/>
<polyline points="46.08,542.20 46.08,390.77 317.62,340.30" fill="none" stroke="#7f7f7f" stroke-width="0.95" stroke-linejoin="round" stroke-opacity="0.3"/>
<polyline points="46.08,542.20 46.08,441.25 317.62,340.30" fill="none" stroke="#bcbd22" stroke-width="0.95" stroke-linejoin="round" stroke-opacity="0.3"/>
<polyline points="46.08,542.20 46.08,340.30 317.62,340.30" fill="none" stroke="#17becf" stroke-width="0.95" stroke-linejoin="round" stroke-opacity="0.3"/>
<line x1="46.08" y1="542.20" x2="317.62" y2="340.30" stroke="#ff0000" stroke-width="1.8" stroke-opacity="0.82" stroke-dasharray="6.2,2.7"/>
<polyline points="46.08,542.20 48.82,405.15 51.56,404.39 54.31,403.62 57.05,402.86 59.79,402.09 62.53,401.33 65.28,400.56 68.02,399.80 70.76,399.03 73.51,398.27 76.25,397.50 78.99,396.74 81.73,395.97 84.48,395.21 87.22,394.44 89.96,393.68 92.71,392.91 95.45,392.15 98.19,391.38 100.93,390.62 103.68,389.85 106.42,389.09 109.16,388.33 111.91,387.56 114.65,386.80 117.39,386.03 120.14,385.27 122.88,384.50 125.62,383.74 128.36,382.97 131.11,382.21 133.85,381.44 136.59,380.68 139.34,379.91 142.08,379.15 144.82,378.38 147.56,377.62 150.31,376.85 153.05,376.09 155.79,375.32 158.54,374.56 161.28,373.79 164.02,373.03 166.76,372.26 169.51,371.50 172.25,370.73 174.99,369.97 177.74,369.21 180.48,368.44 183.22,367.78 185.96,367.22 188.71,366.66 191.45,366.09 194.19,365.53 196.94,364.97 199.68,364.41 202.42,363.85 205.16,363.29 207.91,362.73 210.65,362.17 213.39,361.61 216.14,361.05 218.88,360.49 221.62,359.93 224.36,359.36 227.11,358.80 229.85,358.24 232.59,357.68 235.34,357.12 238.08,356.56 240.82,356.00 243.56,355.44 246.31,354.88 249.05,354.32 251.79,353.76 254.54,353.20 257.28,352.63 260.02,352.07 262.77,351.51 265.51,350.95 268.25,350.39 270.99,349.83 273.74,349.27 276.48,348.71 279.22,348.15 281.97,347.59 284.71,347.03 287.45,346.46 290.19,345.90 292.94,345.34 295.68,344.78 298.42,344.22 301.17,343.66 303.91,343.10 306.65,342.54 309.39,341.98 312.14,341.42 314.88,340.86 317.62,340.30" fill="none" stroke="#0000ff" stroke-width="1.85" stroke-linejoin="round" stroke-opacity="0.86"/>
<path d="M46.08,542.20 L48.82,350.44 L51.56,350.48 L54.31,350.53 L57.05,350.57 L59.79,350.62 L62.53,350.66 L65.28,350.70 L68.02,350.74 L70.76,350.78 L73.51,350.82 L76.25,350.86 L78.99,350.90 L81.73,350.94 L84.48,350.97 L87.22,351.01 L89.96,351.04 L92.71,351.07 L95.45,351.10 L98.19,351.13 L100.93,351.16 L103.68,351.19 L106.42,351.21 L109.16,351.24 L111.91,351.26 L114.65,351.28 L117.39,351.29 L120.14,351.31 L122.88,351.32 L125.62,351.33 L128.36,351.34 L131.11,351.34 L133.85,351.34 L136.59,351.34 L139.34,351.33 L142.08,351.32 L144.82,351.31 L147.56,351.29 L150.31,351.26 L153.05,351.23 L155.79,351.20 L158.54,351.15 L161.28,351.10 L164.02,351.04 L166.76,350.97 L169.51,350.90 L172.25,350.81 L174.99,350.71 L177.74,350.59 L180.48,350.46 L183.22,350.29 L185.96,350.08 L188.71,349.88 L191.45,349.68 L194.19,349.47 L196.94,349.27 L199.68,349.07 L202.42,348.86 L205.16,348.66 L207.91,348.45 L210.65,348.25 L213.39,348.05 L216.14,347.84 L218.88,347.64 L221.62,347.43 L224.36,347.23 L227.11,347.03 L229.85,346.82 L232.59,346.62 L235.34,346.41 L238.08,346.21 L240.82,346.01 L243.56,345.80 L246.31,345.60 L249.05,345.39 L251.79,345.19 L254.54,344.99 L257.28,344.78 L260.02,344.58 L262.77,344.37 L265.51,344.17 L268.25,343.97 L270.99,343.76 L273.74,343.56 L276.48,343.35 L279.22,343.15 L281.97,342.95 L284.71,342.74 L287.45,342.54 L290.19,342.33 L292.94,342.13 L295.68,341.93 L298.42,341.72 L301.17,341.52 L303.91,341.32 L306.65,341.11 L309.39,340.91 L312.14,340.70 L314.88,340.50 L317.62,340.30 L317.62,340.30 L314.88,341.21 L312.14,342.13 L309.39,343.05 L306.65,343.97 L303.91,344.88 L301.17,345.80 L298.42,346.72 L295.68,347.64 L292.94,348.56 L290.19,349.47 L287.45,350.39 L284.71,351.31 L281.97,352.23 L279.22,353.14 L276.48,354.06 L273.74,354.98 L270.99,355.90 L268.25,356.82 L265.51,357.73 L262.77,358.65 L260.02,359.57 L257.28,360.49 L254.54,361.40 L251.79,362.32 L249.05,363.24 L246.31,364.16 L243.56,365.08 L240.82,365.99 L238.08,366.91 L235.34,367.83 L232.59,368.75 L229.85,369.66 L227.11,370.58 L224.36,371.50 L221.62,372.42 L218.88,373.34 L216.14,374.25 L213.39,375.17 L210.65,376.09 L207.91,377.01 L205.16,377.92 L202.42,378.84 L199.68,379.76 L196.94,380.68 L194.19,381.60 L191.45,382.51 L188.71,383.43 L185.96,384.35 L183.22,385.27 L180.48,386.42 L177.74,387.82 L174.99,389.23 L172.25,390.66 L169.51,392.10 L166.76,393.55 L164.02,395.02 L161.28,396.49 L158.54,397.96 L155.79,399.45 L153.05,400.94 L150.31,402.44 L147.56,403.95 L144.82,405.46 L142.08,406.97 L139.34,408.49 L136.59,410.01 L133.85,411.54 L131.11,413.07 L128.36,414.61 L125.62,416.14 L122.88,417.68 L120.14,419.22 L117.39,420.77 L114.65,422.32 L111.91,423.86 L109.16,425.41 L106.42,426.97 L103.68,428.52 L100.93,430.08 L98.19,431.64 L95.45,433.20 L92.71,434.76 L89.96,436.32 L87.22,437.88 L84.48,439.45 L81.73,441.01 L78.99,442.58 L76.25,444.15 L73.51,445.71 L70.76,447.28 L68.02,448.85 L65.28,450.42 L62.53,452.00 L59.79,453.57 L57.05,455.14 L54.31,456.72 L51.56,458.29 L48.82,459.87 L46.08,542.20 Z" fill="#808080" fill-opacity="0.2" stroke="#808080" stroke-opacity="0.2" stroke-width="0.8"/>
</g>
<rect x="32.50" y="330.20" width="298.70" height="222.10" fill="none" stroke="#2a2a2a" stroke-width="0.9"/>
<line x1="46.08" y1="552.30" x2="46.08" y2="555.70" stroke="#222" stroke-width="0.7"/>
<text x="46.08" y="564.50" font-size="9.24" text-anchor="middle" textLength="13.25" lengthAdjust="spacingAndGlyphs" xml:space="preserve">0.0</text>
<line x1="29.20" y1="542.20" x2="32.50" y2="542.20" stroke="#222" stroke-width="0.7"/>
<text x="26.60" y="545.51" font-size="9.24" text-anchor="end" textLength="13.25" lengthAdjust="spacingAndGlyphs" xml:space="preserve">0.0</text>
<line x1="100.39" y1="552.30" x2="100.39" y2="555.70" stroke="#222" stroke-width="0.7"/>
<text x="100.39" y="564.50" font-size="9.24" text-anchor="middle" textLength="13.25" lengthAdjust="spacingAndGlyphs" xml:space="preserve">0.2</text>
<line x1="29.20" y1="501.82" x2="32.50" y2="501.82" stroke="#222" stroke-width="0.7"/>
<text x="26.60" y="505.13" font-size="9.24" text-anchor="end" textLength="13.25" lengthAdjust="spacingAndGlyphs" xml:space="preserve">0.2</text>
<line x1="154.70" y1="552.30" x2="154.70" y2="555.70" stroke="#222" stroke-width="0.7"/>
<text x="154.70" y="564.50" font-size="9.24" text-anchor="middle" textLength="13.25" lengthAdjust="spacingAndGlyphs" xml:space="preserve">0.4</text>
<line x1="29.20" y1="461.44" x2="32.50" y2="461.44" stroke="#222" stroke-width="0.7"/>
<text x="26.60" y="464.75" font-size="9.24" text-anchor="end" textLength="13.25" lengthAdjust="spacingAndGlyphs" xml:space="preserve">0.4</text>
<line x1="209.00" y1="552.30" x2="209.00" y2="555.70" stroke="#222" stroke-width="0.7"/>
<text x="209.00" y="564.50" font-size="9.24" text-anchor="middle" textLength="13.25" lengthAdjust="spacingAndGlyphs" xml:space="preserve">0.6</text>
<line x1="29.20" y1="421.06" x2="32.50" y2="421.06" stroke="#222" stroke-width="0.7"/>
<text x="26.60" y="424.37" font-size="9.24" text-anchor="end" textLength="13.25" lengthAdjust="spacingAndGlyphs" xml:space="preserve">0.6</text>
<line x1="263.31" y1="552.30" x2="263.31" y2="555.70" stroke="#222" stroke-width="0.7"/>
<text x="263.31" y="564.50" font-size="9.24" text-anchor="middle" textLength="13.25" lengthAdjust="spacingAndGlyphs" xml:space="preserve">0.8</text>
<line x1="29.20" y1="380.68" x2="32.50" y2="380.68" stroke="#222" stroke-width="0.7"/>
<text x="26.60" y="383.99" font-size="9.24" text-anchor="end" textLength="13.25" lengthAdjust="spacingAndGlyphs" xml:space="preserve">0.8</text>
<line x1="317.62" y1="552.30" x2="317.62" y2="555.70" stroke="#222" stroke-width="0.7"/>
<text x="317.62" y="564.50" font-size="9.24" text-anchor="middle" textLength="13.25" lengthAdjust="spacingAndGlyphs" xml:space="preserve">1.0</text>
<line x1="29.20" y1="340.30" x2="32.50" y2="340.30" stroke="#222" stroke-width="0.7"/>
<text x="26.60" y="343.61" font-size="9.24" text-anchor="end" textLength="13.25" lengthAdjust="spacingAndGlyphs" xml:space="preserve">1.0</text>
<text x="181.85" y="324.70" font-size="11.21" text-anchor="middle" textLength="225.21" lengthAdjust="spacingAndGlyphs" xml:space="preserve">ROC ExtraTreesClassifier(n_estimators=300)</text>
<text x="181.85" y="576.60" font-size="9.24" text-anchor="middle" textLength="77.42" lengthAdjust="spacingAndGlyphs" xml:space="preserve">False Positive Rate</text>
<text x="9.60" y="441.25" font-size="9.24" text-anchor="middle" textLength="74.20" lengthAdjust="spacingAndGlyphs" transform="rotate(-90 9.60 441.25)" xml:space="preserve">True Positive Rate</text>
<rect x="165.6" y="381.9" width="160.90" height="166.00" rx="2" fill="#fff" fill-opacity="0.8" stroke="#cccccc" stroke-width="0.6"/>
<line x1="167.70" y1="388.90" x2="185.50" y2="388.90" stroke="#1f77b4" stroke-width="1.4" stroke-opacity="0.3"/>
<text x="191.20" y="392.21" font-size="9.24" textLength="103.60" lengthAdjust="spacingAndGlyphs" xml:space="preserve">ROC fold 0 (AUC = 1.00)</text>
<line x1="167.70" y1="401.52" x2="185.50" y2="401.52" stroke="#ff7f0e" stroke-width="1.4" stroke-opacity="0.3"/>
<text x="191.20" y="404.83" font-size="9.24" textLength="103.60" lengthAdjust="spacingAndGlyphs" xml:space="preserve">ROC fold 1 (AUC = 0.88)</text>
<line x1="167.70" y1="414.14" x2="185.50" y2="414.14" stroke="#2ca02c" stroke-width="1.4" stroke-opacity="0.3"/>
<text x="191.20" y="417.45" font-size="9.24" textLength="103.60" lengthAdjust="spacingAndGlyphs" xml:space="preserve">ROC fold 2 (AUC = 0.88)</text>
<line x1="167.70" y1="426.76" x2="185.50" y2="426.76" stroke="#d62728" stroke-width="1.4" stroke-opacity="0.3"/>
<text x="191.20" y="430.07" font-size="9.24" textLength="103.60" lengthAdjust="spacingAndGlyphs" xml:space="preserve">ROC fold 3 (AUC = 0.62)</text>
<line x1="167.70" y1="439.38" x2="185.50" y2="439.38" stroke="#9467bd" stroke-width="1.4" stroke-opacity="0.3"/>
<text x="191.20" y="442.69" font-size="9.24" textLength="103.60" lengthAdjust="spacingAndGlyphs" xml:space="preserve">ROC fold 4 (AUC = 0.88)</text>
<line x1="167.70" y1="452.00" x2="185.50" y2="452.00" stroke="#8c564b" stroke-width="1.4" stroke-opacity="0.3"/>
<text x="191.20" y="455.31" font-size="9.24" textLength="103.60" lengthAdjust="spacingAndGlyphs" xml:space="preserve">ROC fold 5 (AUC = 0.75)</text>
<line x1="167.70" y1="464.62" x2="185.50" y2="464.62" stroke="#e377c2" stroke-width="1.4" stroke-opacity="0.3"/>
<text x="191.20" y="467.93" font-size="9.24" textLength="103.60" lengthAdjust="spacingAndGlyphs" xml:space="preserve">ROC fold 6 (AUC = 0.88)</text>
<line x1="167.70" y1="477.24" x2="185.50" y2="477.24" stroke="#7f7f7f" stroke-width="1.4" stroke-opacity="0.3"/>
<text x="191.20" y="480.55" font-size="9.24" textLength="103.60" lengthAdjust="spacingAndGlyphs" xml:space="preserve">ROC fold 7 (AUC = 0.88)</text>
<line x1="167.70" y1="489.86" x2="185.50" y2="489.86" stroke="#bcbd22" stroke-width="1.4" stroke-opacity="0.3"/>
<text x="191.20" y="493.17" font-size="9.24" textLength="103.60" lengthAdjust="spacingAndGlyphs" xml:space="preserve">ROC fold 8 (AUC = 0.75)</text>
<line x1="167.70" y1="502.48" x2="185.50" y2="502.48" stroke="#17becf" stroke-width="1.4" stroke-opacity="0.3"/>
<text x="191.20" y="505.79" font-size="9.24" textLength="103.60" lengthAdjust="spacingAndGlyphs" xml:space="preserve">ROC fold 9 (AUC = 1.00)</text>
<line x1="167.70" y1="515.10" x2="185.50" y2="515.10" stroke="#ff0000" stroke-width="1.8" stroke-opacity="0.82" stroke-dasharray="6.2,2.7"/>
<text x="191.20" y="518.41" font-size="9.24" textLength="31.19" lengthAdjust="spacingAndGlyphs" xml:space="preserve">Chance</text>
<line x1="167.20" y1="527.72" x2="186.00" y2="527.72" stroke="#0000ff" stroke-width="1.9" stroke-opacity="0.86"/>
<text x="191.20" y="531.03" font-size="9.24" textLength="133.36" lengthAdjust="spacingAndGlyphs" xml:space="preserve">Mean ROC (AUC = 0.85 ± 0.11)</text>
<rect x="167.70" y="536.94" width="17.80" height="6.5" fill="#808080" fill-opacity="0.2" stroke="#808080" stroke-opacity="0.15" stroke-width="0.5"/>
<text x="191.20" y="543.65" font-size="9.24" textLength="53.11" lengthAdjust="spacingAndGlyphs" xml:space="preserve">± 1 std. dev.</text>
<g>
<polyline points="397.23,542.36 451.74,339.64 669.77,339.64" fill="none" stroke="#1f77b4" stroke-width="0.95" stroke-linejoin="round" stroke-opacity="0.3"/>
<polyline points="397.23,542.36 506.25,339.64 669.77,339.64" fill="none" stroke="#ff7f0e" stroke-width="0.95" stroke-linejoin="round" stroke-opacity="0.3"/>
<polyline points="397.23,542.36 669.77,339.64" fill="none" stroke="#2ca02c" stroke-width="0.95" stroke-linejoin="round" stroke-opacity="0.3"/>
<polyline points="397.23,542.36 506.25,420.73 669.77,339.64" fill="none" stroke="#d62728" stroke-width="0.95" stroke-linejoin="round" stroke-opacity="0.3"/>
<polyline points="397.23,542.36 506.25,390.32 669.77,339.64" fill="none" stroke="#9467bd" stroke-width="0.95" stroke-linejoin="round" stroke-opacity="0.3"/>
<polyline points="397.23,542.36 560.75,491.68 669.77,339.64" fill="none" stroke="#8c564b" stroke-width="0.95" stroke-linejoin="round" stroke-opacity="0.3"/>
<polyline points="397.23,542.36 465.36,339.64 669.77,339.64" fill="none" stroke="#e377c2" stroke-width="0.95" stroke-linejoin="round" stroke-opacity="0.3"/>
<polyline points="397.23,542.36 601.64,339.64 669.77,339.64" fill="none" stroke="#7f7f7f" stroke-width="0.95" stroke-linejoin="round" stroke-opacity="0.3"/>
<polyline points="397.23,542.36 465.36,339.64 669.77,339.64" fill="none" stroke="#bcbd22" stroke-width="0.95" stroke-linejoin="round" stroke-opacity="0.3"/>
<polyline points="397.23,542.36 533.50,339.64 669.77,339.64" fill="none" stroke="#17becf" stroke-width="0.95" stroke-linejoin="round" stroke-opacity="0.3"/>
<line x1="397.23" y1="542.36" x2="669.77" y2="339.64" stroke="#ff0000" stroke-width="1.8" stroke-opacity="0.82" stroke-dasharray="6.2,2.7"/>
<polyline points="397.23,542.36 399.98,537.53 402.73,532.69 405.49,527.85 408.24,523.01 410.99,518.17 413.75,513.34 416.50,508.50 419.25,503.66 422.00,498.82 424.76,493.99 427.51,489.15 430.26,484.31 433.02,479.47 435.77,474.63 438.52,469.80 441.28,464.96 444.03,460.12 446.78,455.28 449.53,450.45 452.29,445.81 455.04,442.00 457.79,438.18 460.55,434.37 463.30,430.56 466.05,427.15 468.80,424.98 471.56,422.80 474.31,420.62 477.06,418.45 479.82,416.27 482.57,414.10 485.32,411.92 488.08,409.75 490.83,407.57 493.58,405.39 496.33,403.22 499.09,401.04 501.84,398.87 504.59,396.69 507.35,394.91 510.10,393.71 512.85,392.52 515.61,391.32 518.36,390.13 521.11,388.94 523.86,387.74 526.62,386.55 529.37,385.35 532.12,384.16 534.88,383.17 537.63,382.38 540.38,381.60 543.14,380.81 545.89,380.03 548.64,379.24 551.39,378.46 554.15,377.67 556.90,376.89 559.65,376.10 562.41,375.14 565.16,374.06 567.91,372.97 570.67,371.89 573.42,370.80 576.17,369.72 578.92,368.64 581.68,367.55 584.43,366.47 587.18,365.39 589.94,364.30 592.69,363.22 595.44,362.14 598.20,361.05 600.95,359.97 603.70,359.09 606.45,358.28 609.21,357.47 611.96,356.66 614.71,355.85 617.47,355.04 620.22,354.23 622.97,353.42 625.72,352.61 628.48,351.79 631.23,350.98 633.98,350.17 636.74,349.36 639.49,348.55 642.24,347.74 645.00,346.93 647.75,346.12 650.50,345.31 653.25,344.50 656.01,343.69 658.76,342.88 661.51,342.07 664.27,341.26 667.02,340.45 669.77,339.64" fill="none" stroke="#0000ff" stroke-width="1.85" stroke-linejoin="round" stroke-opacity="0.86"/>
<path d="M397.23,542.36 L399.98,534.62 L402.73,526.87 L405.49,519.13 L408.24,511.38 L410.99,503.64 L413.75,495.89 L416.50,488.15 L419.25,480.41 L422.00,472.66 L424.76,464.92 L427.51,457.17 L430.26,449.43 L433.02,441.68 L435.77,433.94 L438.52,426.19 L441.28,418.45 L444.03,410.70 L446.78,402.96 L449.53,395.21 L452.29,388.05 L455.04,383.16 L457.79,378.18 L460.55,373.11 L463.30,367.95 L466.05,363.70 L468.80,362.32 L471.56,360.90 L474.31,359.43 L477.06,357.92 L479.82,356.37 L482.57,354.76 L485.32,353.11 L488.08,351.41 L490.83,349.65 L493.58,347.85 L496.33,345.98 L499.09,344.07 L501.84,342.10 L504.59,340.07 L507.35,339.64 L510.10,339.64 L512.85,339.64 L515.61,339.64 L518.36,339.64 L521.11,339.64 L523.86,339.64 L526.62,339.64 L529.37,339.64 L532.12,339.64 L534.88,339.64 L537.63,339.64 L540.38,339.64 L543.14,339.64 L545.89,339.64 L548.64,339.64 L551.39,339.64 L554.15,339.64 L556.90,339.64 L559.65,339.64 L562.41,339.64 L565.16,339.64 L567.91,339.64 L570.67,339.64 L573.42,339.64 L576.17,339.64 L578.92,339.64 L581.68,339.64 L584.43,339.64 L587.18,339.64 L589.94,339.64 L592.69,339.64 L595.44,339.64 L598.20,339.64 L600.95,339.64 L603.70,339.64 L606.45,339.64 L609.21,339.64 L611.96,339.64 L614.71,339.64 L617.47,339.64 L620.22,339.64 L622.97,339.64 L625.72,339.64 L628.48,339.64 L631.23,339.64 L633.98,339.64 L636.74,339.64 L639.49,339.64 L642.24,339.64 L645.00,339.64 L647.75,339.64 L650.50,339.64 L653.25,339.64 L656.01,339.64 L658.76,339.64 L661.51,339.64 L664.27,339.64 L667.02,339.64 L669.77,339.64 L669.77,339.64 L667.02,341.67 L664.27,343.70 L661.51,345.74 L658.76,347.77 L656.01,349.80 L653.25,351.84 L650.50,353.87 L647.75,355.90 L645.00,357.94 L642.24,359.97 L639.49,362.01 L636.74,364.04 L633.98,366.07 L631.23,368.11 L628.48,370.14 L625.72,372.17 L622.97,374.21 L620.22,376.24 L617.47,378.27 L614.71,380.31 L611.96,382.34 L609.21,384.37 L606.45,386.41 L603.70,388.44 L600.95,390.50 L598.20,392.64 L595.44,394.80 L592.69,396.97 L589.94,399.17 L587.18,401.37 L584.43,403.59 L581.68,405.82 L578.92,408.06 L576.17,410.31 L573.42,412.56 L570.67,414.83 L567.91,417.10 L565.16,419.38 L562.41,421.67 L559.65,423.55 L556.90,424.83 L554.15,426.11 L551.39,427.41 L548.64,428.73 L545.89,430.05 L543.14,431.39 L540.38,432.73 L537.63,434.09 L534.88,435.46 L532.12,436.88 L529.37,438.36 L526.62,439.86 L523.86,441.41 L521.11,442.98 L518.36,444.58 L515.61,446.20 L512.85,447.86 L510.10,449.55 L507.35,451.26 L504.59,453.32 L501.84,455.64 L499.09,458.02 L496.33,460.45 L493.58,462.94 L490.83,465.49 L488.08,468.08 L485.32,470.73 L482.57,473.43 L479.82,476.18 L477.06,478.98 L474.31,481.82 L471.56,484.71 L468.80,487.64 L466.05,490.61 L463.30,493.16 L460.55,495.63 L457.79,498.19 L455.04,500.83 L452.29,503.57 L449.53,505.68 L446.78,507.61 L444.03,509.54 L441.28,511.47 L438.52,513.40 L435.77,515.33 L433.02,517.26 L430.26,519.19 L427.51,521.12 L424.76,523.06 L422.00,524.99 L419.25,526.92 L416.50,528.85 L413.75,530.78 L410.99,532.71 L408.24,534.64 L405.49,536.57 L402.73,538.50 L399.98,540.43 L397.23,542.36 Z" fill="#808080" fill-opacity="0.2" stroke="#808080" stroke-opacity="0.2" stroke-width="0.8"/>
</g>
<rect x="383.60" y="329.50" width="299.80" height="223.00" fill="none" stroke="#2a2a2a" stroke-width="0.9"/>
<line x1="397.23" y1="552.50" x2="397.23" y2="555.90" stroke="#222" stroke-width="0.7"/>
<text x="397.23" y="564.70" font-size="9.24" text-anchor="middle" textLength="13.25" lengthAdjust="spacingAndGlyphs" xml:space="preserve">0.0</text>
<line x1="380.30" y1="542.36" x2="383.60" y2="542.36" stroke="#222" stroke-width="0.7"/>
<text x="377.70" y="545.67" font-size="9.24" text-anchor="end" textLength="13.25" lengthAdjust="spacingAndGlyphs" xml:space="preserve">0.0</text>
<line x1="451.74" y1="552.50" x2="451.74" y2="555.90" stroke="#222" stroke-width="0.7"/>
<text x="451.74" y="564.70" font-size="9.24" text-anchor="middle" textLength="13.25" lengthAdjust="spacingAndGlyphs" xml:space="preserve">0.2</text>
<line x1="380.30" y1="501.82" x2="383.60" y2="501.82" stroke="#222" stroke-width="0.7"/>
<text x="377.70" y="505.13" font-size="9.24" text-anchor="end" textLength="13.25" lengthAdjust="spacingAndGlyphs" xml:space="preserve">0.2</text>
<line x1="506.25" y1="552.50" x2="506.25" y2="555.90" stroke="#222" stroke-width="0.7"/>
<text x="506.25" y="564.70" font-size="9.24" text-anchor="middle" textLength="13.25" lengthAdjust="spacingAndGlyphs" xml:space="preserve">0.4</text>
<line x1="380.30" y1="461.27" x2="383.60" y2="461.27" stroke="#222" stroke-width="0.7"/>
<text x="377.70" y="464.58" font-size="9.24" text-anchor="end" textLength="13.25" lengthAdjust="spacingAndGlyphs" xml:space="preserve">0.4</text>
<line x1="560.75" y1="552.50" x2="560.75" y2="555.90" stroke="#222" stroke-width="0.7"/>
<text x="560.75" y="564.70" font-size="9.24" text-anchor="middle" textLength="13.25" lengthAdjust="spacingAndGlyphs" xml:space="preserve">0.6</text>
<line x1="380.30" y1="420.73" x2="383.60" y2="420.73" stroke="#222" stroke-width="0.7"/>
<text x="377.70" y="424.04" font-size="9.24" text-anchor="end" textLength="13.25" lengthAdjust="spacingAndGlyphs" xml:space="preserve">0.6</text>
<line x1="615.26" y1="552.50" x2="615.26" y2="555.90" stroke="#222" stroke-width="0.7"/>
<text x="615.26" y="564.70" font-size="9.24" text-anchor="middle" textLength="13.25" lengthAdjust="spacingAndGlyphs" xml:space="preserve">0.8</text>
<line x1="380.30" y1="380.18" x2="383.60" y2="380.18" stroke="#222" stroke-width="0.7"/>
<text x="377.70" y="383.49" font-size="9.24" text-anchor="end" textLength="13.25" lengthAdjust="spacingAndGlyphs" xml:space="preserve">0.8</text>
<line x1="669.77" y1="552.50" x2="669.77" y2="555.90" stroke="#222" stroke-width="0.7"/>
<text x="669.77" y="564.70" font-size="9.24" text-anchor="middle" textLength="13.25" lengthAdjust="spacingAndGlyphs" xml:space="preserve">1.0</text>
<line x1="380.30" y1="339.64" x2="383.60" y2="339.64" stroke="#222" stroke-width="0.7"/>
<text x="377.70" y="342.95" font-size="9.24" text-anchor="end" textLength="13.25" lengthAdjust="spacingAndGlyphs" xml:space="preserve">1.0</text>
<text x="533.50" y="324.20" font-size="11.21" text-anchor="middle" textLength="225.21" lengthAdjust="spacingAndGlyphs" xml:space="preserve">ROC ExtraTreesClassifier(n_estimators=300)</text>
<text x="533.50" y="576.80" font-size="9.24" text-anchor="middle" textLength="77.42" lengthAdjust="spacingAndGlyphs" xml:space="preserve">False Positive Rate</text>
<text x="360.30" y="441.00" font-size="9.24" text-anchor="middle" textLength="74.20" lengthAdjust="spacingAndGlyphs" transform="rotate(-90 360.30 441.00)" xml:space="preserve">True Positive Rate</text>
<rect x="516.9" y="381.4" width="161.80" height="166.70" rx="2" fill="#fff" fill-opacity="0.8" stroke="#cccccc" stroke-width="0.6"/>
<line x1="518.90" y1="388.60" x2="536.80" y2="388.60" stroke="#1f77b4" stroke-width="1.4" stroke-opacity="0.3"/>
<text x="543.40" y="391.91" font-size="9.24" textLength="103.40" lengthAdjust="spacingAndGlyphs" xml:space="preserve">ROC fold 0 (AUC = 0.90)</text>
<line x1="518.90" y1="401.22" x2="536.80" y2="401.22" stroke="#ff7f0e" stroke-width="1.4" stroke-opacity="0.3"/>
<text x="543.40" y="404.53" font-size="9.24" textLength="103.40" lengthAdjust="spacingAndGlyphs" xml:space="preserve">ROC fold 1 (AUC = 0.80)</text>
<line x1="518.90" y1="413.84" x2="536.80" y2="413.84" stroke="#2ca02c" stroke-width="1.4" stroke-opacity="0.3"/>
<text x="543.40" y="417.15" font-size="9.24" textLength="103.40" lengthAdjust="spacingAndGlyphs" xml:space="preserve">ROC fold 2 (AUC = 0.50)</text>
<line x1="518.90" y1="426.46" x2="536.80" y2="426.46" stroke="#d62728" stroke-width="1.4" stroke-opacity="0.3"/>
<text x="543.40" y="429.77" font-size="9.24" textLength="103.40" lengthAdjust="spacingAndGlyphs" xml:space="preserve">ROC fold 3 (AUC = 0.60)</text>
<line x1="518.90" y1="439.08" x2="536.80" y2="439.08" stroke="#9467bd" stroke-width="1.4" stroke-opacity="0.3"/>
<text x="543.40" y="442.39" font-size="9.24" textLength="103.40" lengthAdjust="spacingAndGlyphs" xml:space="preserve">ROC fold 4 (AUC = 0.68)</text>
<line x1="518.90" y1="451.70" x2="536.80" y2="451.70" stroke="#8c564b" stroke-width="1.4" stroke-opacity="0.3"/>
<text x="543.40" y="455.01" font-size="9.24" textLength="103.40" lengthAdjust="spacingAndGlyphs" xml:space="preserve">ROC fold 5 (AUC = 0.33)</text>
<line x1="518.90" y1="464.32" x2="536.80" y2="464.32" stroke="#e377c2" stroke-width="1.4" stroke-opacity="0.3"/>
<text x="543.40" y="467.63" font-size="9.24" textLength="103.40" lengthAdjust="spacingAndGlyphs" xml:space="preserve">ROC fold 6 (AUC = 0.88)</text>
<line x1="518.90" y1="476.94" x2="536.80" y2="476.94" stroke="#7f7f7f" stroke-width="1.4" stroke-opacity="0.3"/>
<text x="543.40" y="480.25" font-size="9.24" textLength="103.40" lengthAdjust="spacingAndGlyphs" xml:space="preserve">ROC fold 7 (AUC = 0.62)</text>
<line x1="518.90" y1="489.56" x2="536.80" y2="489.56" stroke="#bcbd22" stroke-width="1.4" stroke-opacity="0.3"/>
<text x="543.40" y="492.87" font-size="9.24" textLength="103.40" lengthAdjust="spacingAndGlyphs" xml:space="preserve">ROC fold 8 (AUC = 0.88)</text>
<line x1="518.90" y1="502.18" x2="536.80" y2="502.18" stroke="#17becf" stroke-width="1.4" stroke-opacity="0.3"/>
<text x="543.40" y="505.49" font-size="9.24" textLength="103.40" lengthAdjust="spacingAndGlyphs" xml:space="preserve">ROC fold 9 (AUC = 0.75)</text>
<line x1="518.90" y1="514.80" x2="536.80" y2="514.80" stroke="#ff0000" stroke-width="1.8" stroke-opacity="0.82" stroke-dasharray="6.2,2.7"/>
<text x="543.40" y="518.11" font-size="9.24" textLength="31.19" lengthAdjust="spacingAndGlyphs" xml:space="preserve">Chance</text>
<line x1="518.40" y1="527.42" x2="537.30" y2="527.42" stroke="#0000ff" stroke-width="1.9" stroke-opacity="0.86"/>
<text x="543.40" y="530.73" font-size="9.24" textLength="133.36" lengthAdjust="spacingAndGlyphs" xml:space="preserve">Mean ROC (AUC = 0.69 ± 0.18)</text>
<rect x="518.90" y="536.64" width="17.90" height="6.5" fill="#808080" fill-opacity="0.2" stroke="#808080" stroke-opacity="0.15" stroke-width="0.5"/>
<text x="543.40" y="543.35" font-size="9.24" textLength="53.11" lengthAdjust="spacingAndGlyphs" xml:space="preserve">± 1 std. dev.</text>
<text transform="translate(8.1 19.6) scale(0.88 1)" font-size="24.2" font-weight="bold" fill="#000">a</text>
<text x="22.2" y="19.6" font-size="24.2" font-weight="bold" fill="#000">)</text>
<text x="380.4" y="19.9" font-size="24.2" font-weight="bold" fill="#000">b</text>
<text x="395.9" y="19.9" font-size="24.2" font-weight="bold" fill="#000">)</text>
<text transform="translate(7.8 311.6) scale(0.88 1)" font-size="24.2" font-weight="bold" fill="#000">c</text>
<text x="19.8" y="311.6" font-size="24.2" font-weight="bold" fill="#000">)</text>
<text x="378.8" y="311.6" font-size="24.2" font-weight="bold" fill="#000">d</text>
<text x="393.9" y="311.6" font-size="24.2" font-weight="bold" fill="#000">)</text>
</svg></body></html>
